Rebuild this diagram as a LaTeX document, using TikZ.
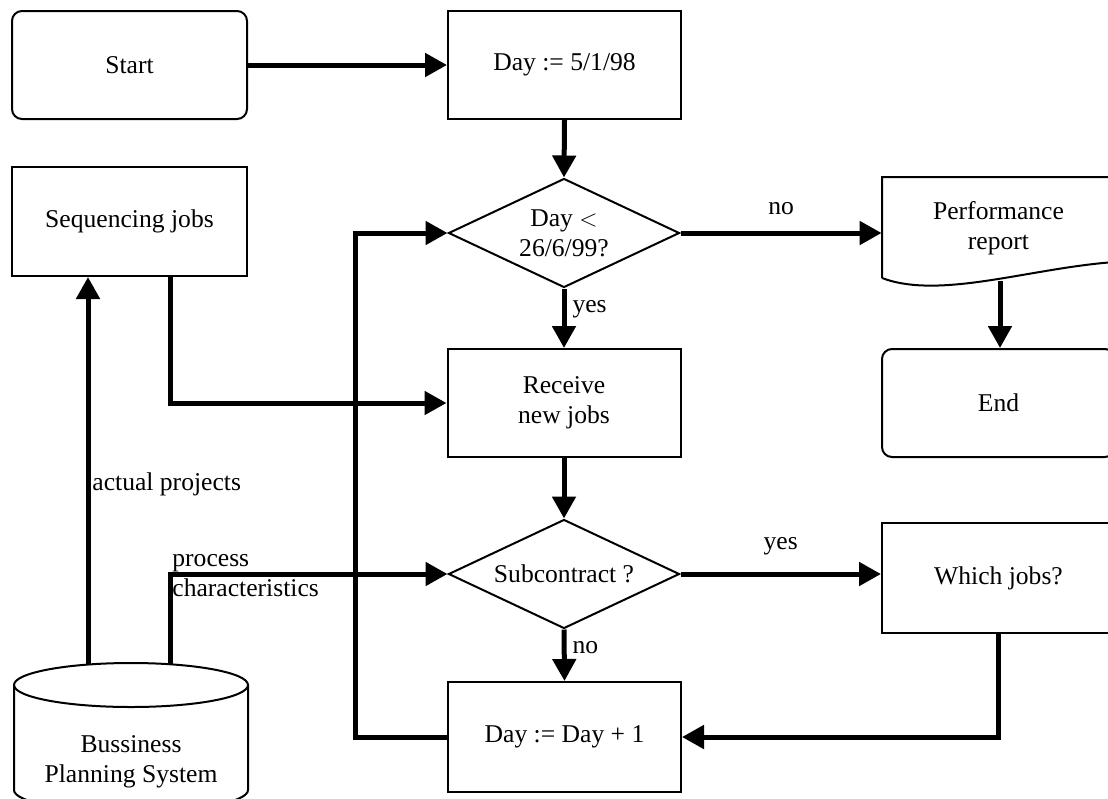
\documentclass[tikz,border=0pt]{standalone}
\usepackage{fontspec}
\setmainfont{Liberation Serif}
\usetikzlibrary{arrows.meta,shapes.geometric}

\begin{document}
\begin{tikzpicture}[x=0.5pt,y=-0.5pt,
  txt/.style={font=\fontsize{12.8pt}{15pt}\selectfont, align=center, inner sep=0pt},
  boxshape/.style={txt, draw, line width=1pt, minimum width=116.5pt, minimum height=54pt},
  roundbox/.style={boxshape, rounded corners=5pt},
  decision/.style={txt, diamond, draw, line width=1pt, aspect=2.12,
    minimum width=115.5pt, minimum height=54.5pt},
  flow/.style={line width=2.5pt, -{Triangle[length=11pt,width=11.5pt]}},
  plain/.style={line width=2.5pt},
  lbl/.style={txt}]

\clip (0,0) rectangle (1108,798);

% process nodes
\node[roundbox, minimum width=117.5pt] (start) at (129.5,65) {Start};
\node[boxshape] (day0) at (564.5,65) {Day := 5/1/98};
\node[boxshape, minimum width=117.5pt, minimum height=54.5pt] (seq) at (129.5,221.5) {Sequencing jobs};
\node[decision] (d1) at (564,233) {Day $<$\\26/6/99?};
\node[boxshape] (recv) at (564,403) {Receive\\new jobs};
\node[decision] (d2) at (564,574) {Subcontract ?};
\node[boxshape, minimum height=55pt] (day1) at (564.5,737) {Day := Day + 1};
\node[boxshape, minimum height=55pt] (which) at (998.5,578) {Which jobs?};
\node[roundbox] (endn) at (998.5,403) {End};

% report (document shape with wavy lower edge)
\draw[line width=1pt] (882,278) -- (882,177) -- (1115,177) -- (1115,262)
  .. controls (1030,268) and (940,300) .. (882,278);
\node[txt, minimum width=116.5pt] (perf) at (998.5,228) {Performance\\report};
\coordinate (perfb) at (1000,281);

% database cylinder
\draw[line width=1pt] (14,685) -- (14,790)
  arc[start angle=180, end angle=360, x radius=58.5pt, y radius=11pt] -- (248,685);
\draw[line width=1pt] (131,685) ellipse [x radius=58.5pt, y radius=11pt];
\node[txt] (db) at (131,762) {Bussiness\\Planning System};
\coordinate (dbA) at (88,665);
\coordinate (dbB) at (170,665);
\coordinate (loopx) at (355,0);

% connectors
\draw[flow] (start.east) -- (start.east -| day0.west);
\draw[flow] (day0.south) -- (d1.north);
\draw[flow] (d1.east) -- node[lbl, above=8pt] (lno) {no} (d1.east -| perf.west);
\draw[flow] (d1.south) -- node[lbl, right=3pt, pos=0.35] (lyes) {yes} (recv.north);
\draw[flow] (perfb) -- (perfb |- endn.north);
\draw[flow] (recv.south) -- (d2.north);
\draw[flow] (d2.east) -- node[lbl, above=8pt] (lyes2) {yes} (d2.east -| which.west);
\draw[flow] (d2.south) -- node[lbl, right=3pt, pos=0.35] (lno2) {no} (day1.north);
\draw[flow] (which.south) |- (day1.east);
\draw[flow] (day1.west) -- (day1.west -| loopx) |- (d1.west);
\draw[flow] (seq.south -| dbB) |- (recv.west);
\draw[flow] (dbA) -- (seq.south -| dbA);
\draw[flow] (dbB) |- (d2.west);

% connector labels
\node[lbl, anchor=west] (lact) at (92,484) {actual projects};
\node[lbl, anchor=west, align=left] (lproc) at (172,576) {process\\characteristics};
\end{tikzpicture}
\end{document}
